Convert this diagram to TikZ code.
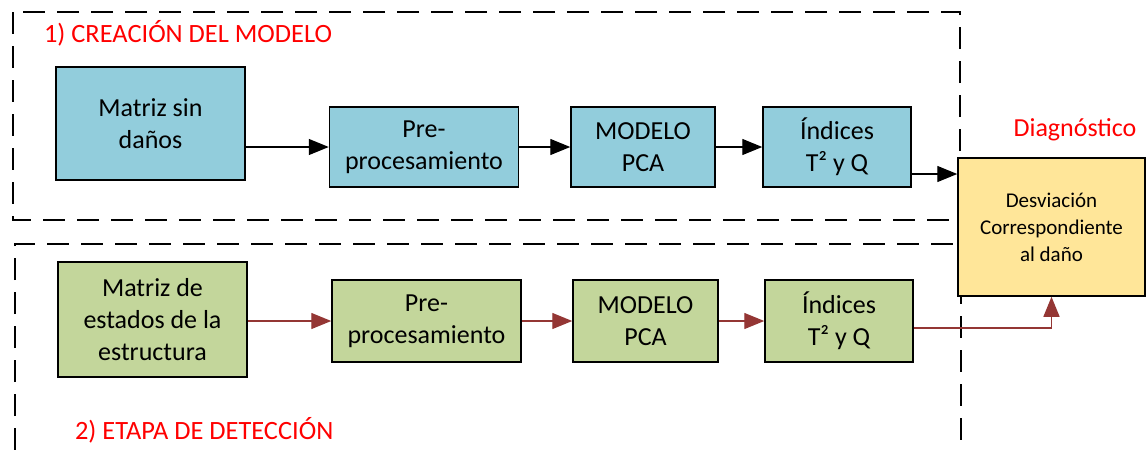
\documentclass[tikz,border=0pt]{standalone}
\usepackage{fontspec}
\setmainfont{Carlito}
\usetikzlibrary{arrows.meta}

\definecolor{azul}{HTML}{92CDDC}
\definecolor{verde}{HTML}{C3D69B}
\definecolor{amarillo}{HTML}{FFE699}
\definecolor{granate}{HTML}{943634}

\begin{document}
\begin{tikzpicture}[x=0.5pt, y=-0.5pt, every node/.style={align=center, font=\fontsize{13}{16}\selectfont}]
	\tikzset{bloque/.style={draw=black, line width=0.75pt, inner sep=0pt},
		arr/.style={line width=0.7pt, -{Triangle[length=10pt,width=8pt]}},
		arrr/.style={arr, draw=granate},
		marco/.style={dashed, dash pattern=on 11pt off 6pt, line width=0.75pt},
		rotulo/.style={text=red, font=\fontsize{13.2}{16}\selectfont}}
	\useasboundingbox (0,0) rectangle (1147,450);
	% etapas
	\draw[marco] (13,12) rectangle (960,220);
	\draw[marco] (15,450) -- (15,244) -- (961,244) -- (961,440);
	\node[rotulo, anchor=west] (r1) at (37,33)  {1) CREACIÓN DEL MODELO};
	\node[rotulo, anchor=west] (r2) at (68,430) {2) ETAPA DE DETECCIÓN};
	% creacion del modelo
	\node[bloque, fill=azul, minimum width=94.5pt, minimum height=56.5pt] (m1) at (150.5,123.5) {Matriz sin\\daños};
	\node[bloque, fill=azul, minimum width=94.5pt, minimum height=40pt]   (p1) at (424,147)   {Pre-\\procesamiento};
	\node[bloque, fill=azul, minimum width=72pt, minimum height=40pt]     (c1) at (643,147)   {MODELO\\PCA};
	\node[bloque, fill=azul, minimum width=74pt, minimum height=40pt]     (i1) at (837,147)   {Índices\\T² y Q};
	% deteccion
	\node[bloque, fill=verde, minimum width=94.5pt, minimum height=57.5pt] (m2) at (152.5,319.5) {Matriz de\\estados de la\\estructura};
	\node[bloque, fill=verde, minimum width=94.5pt, minimum height=41pt]   (p2) at (426.5,321)   {Pre-\\procesamiento};
	\node[bloque, fill=verde, minimum width=72.5pt, minimum height=41pt]   (c2) at (645.5,321)   {MODELO\\PCA};
	\node[bloque, fill=verde, minimum width=74pt, minimum height=41pt]     (i2) at (839,321)     {Índices\\T² y Q};
	% diagnostico
	\node[bloque, fill=amarillo, minimum width=93.5pt, minimum height=69pt, font=\fontsize{10.5}{13.5}\selectfont] (d) at (1051.5,227) {Desviación\\Correspondiente\\al daño};
	\node[text=red] (dg) at (1075,130) {Diagnóstico};
	\coordinate (t1) at (0,174);
	\coordinate (t2) at (0,328);
	\foreach \from/\to in {m1/p1, p1/c1, c1/i1}
		\draw[arr] (\from.east |- \to.west) -- (\to.west);
	\foreach \from/\to in {m2/p2, p2/c2, c2/i2}
		\draw[arrr] (\from.east |- \to.west) -- (\to.west);
	\draw[arr] (i1.east |- t1) -- (d.west |- t1);
	\draw[arrr] (i2.east |- t2) -| (d.south);
\end{tikzpicture}
\end{document}
